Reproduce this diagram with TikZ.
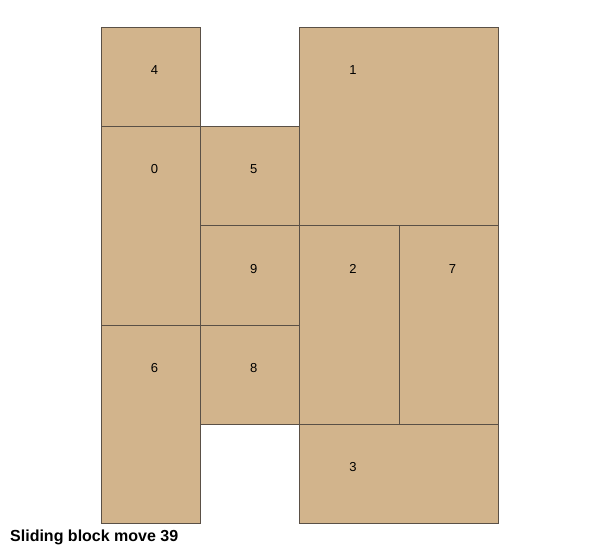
\documentclass[tikz,border=0pt]{standalone}
\usepackage{fontspec}
\setmainfont{Liberation Sans}
\usepackage{tikz}
\usetikzlibrary{positioning}
\definecolor{blockfill}{HTML}{D2B48C}
\definecolor{blockedge}{HTML}{5A5046}

\begin{document}
\begin{tikzpicture}[x=1pt,y=-1pt]
  \tikzstyle{block}=[draw=blockedge, fill=blockfill, line width=0.8pt,
    anchor=north west, inner sep=0pt, outer sep=0pt]
  \tikzstyle{small}=[block, minimum width=99.3pt, minimum height=99.3pt]
  \tikzstyle{tall}=[block, minimum width=99.3pt, minimum height=198.6pt]
  \tikzstyle{wide}=[block, minimum width=198.6pt, minimum height=99.3pt]
  \tikzstyle{big}=[block, minimum width=198.6pt, minimum height=198.6pt]
  \tikzstyle{num}=[font=\fontsize{13}{15}\selectfont, inner sep=0pt]

  \useasboundingbox (0,0) rectangle (600,551);

  % blocks
  \node[small] (b4) at (101,27)    {};
  \node[tall]  (b0) at (101,126.3) {};
  \node[tall]  (b6) at (101,324.9) {};
  \node[small] (b5) at (200.3,126.3) {};
  \node[small] (b9) at (200.3,225.6) {};
  \node[small] (b8) at (200.3,324.9) {};
  \node[big]   (b1) at (299.6,27)    {};
  \node[tall]  (b2) at (299.6,225.6) {};
  \node[tall]  (b7) at (398.9,225.6) {};
  \node[wide]  (b3) at (299.6,424.2) {};

  % numbers
  \node[num] (n4) at (154.5,70)  {4};
  \node[num] (n0) at (154.5,169.3) {0};
  \node[num] (n6) at (154.5,367.9) {6};
  \node[num] (n5) at (253.8,169.3) {5};
  \node[num] (n9) at (253.8,268.6) {9};
  \node[num] (n8) at (253.8,367.9) {8};
  \node[num] (n1) at (353.1,70)  {1};
  \node[num] (n2) at (353.1,268.6) {2};
  \node[num] (n7) at (452.4,268.6) {7};
  \node[num] (n3) at (353.1,467.2) {3};

  \node[anchor=base west, inner sep=0pt, font=\bfseries\fontsize{16}{18}\selectfont]
    (title) at (10,541.5) {Sliding block move 39};
\end{tikzpicture}
\end{document}
